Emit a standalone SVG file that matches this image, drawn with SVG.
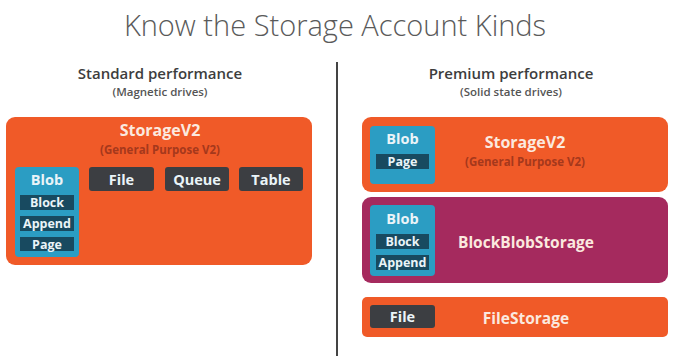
<svg xmlns="http://www.w3.org/2000/svg" width="673" height="356" viewBox="0 0 673 356">
<style>
text{font-family:"Open Sans","Liberation Sans",sans-serif;text-anchor:middle;dominant-baseline:central}
.title{font-size:29px;font-weight:300;fill:#5a5a5a}
.hdr{font-size:15px;font-weight:600;fill:#3d3d3d}
.sub{font-size:11.5px;font-weight:600;fill:#555}
.orange{fill:#f05a28}
.maroon{fill:#a52a5e}
.blue{fill:#2b9dc3}
.navy{fill:#184a60}
.gray{fill:#3c3e42}
.big{font-size:16px;font-weight:700;fill:#fbe9df}
.big2{font-size:15.5px;font-weight:700;fill:#fbe9df}
.gp{font-size:11.5px;font-weight:700;fill:#a5381c}
.lbl{font-size:14.5px;font-weight:700;fill:#eaf4f8}
.sm{font-size:12.5px;font-weight:700;fill:#eaf4f8}
</style>
<rect width="673" height="356" fill="#ffffff"/>
<text class="title" x="335" y="24">Know the Storage Account Kinds</text>
<text class="hdr" x="160" y="73">Standard performance</text>
<text class="sub" x="160" y="91">(Magnetic drives)</text>
<text class="hdr" x="511" y="73">Premium performance</text>
<text class="sub" x="511" y="91">(Solid state drives)</text>
<line x1="337" y1="62" x2="337" y2="356" stroke="#444" stroke-width="2"/>

<g id="std-storagev2">
<rect class="orange" x="6" y="117" width="306" height="148" rx="9"/>
<text class="big" x="160" y="130">StorageV2</text>
<text class="gp" x="160" y="149">(General Purpose V2)</text>
</g>
<g id="std-blob">
<rect class="blue" x="15" y="167" width="64" height="90" rx="4"/>
<text class="lbl" x="47" y="179">Blob</text>
<rect class="navy" x="20" y="195" width="54" height="15"/>
<text class="sm" x="47" y="202.5">Block</text>
<rect class="navy" x="20" y="216" width="54" height="15"/>
<text class="sm" x="47" y="223.5">Append</text>
<rect class="navy" x="20" y="237" width="54" height="14"/>
<text class="sm" x="47" y="244">Page</text>
</g>
<g id="std-file">
<rect class="gray" x="89" y="167" width="65" height="24" rx="3"/>
<text class="lbl" x="121.5" y="179">File</text>
</g>
<g id="std-queue">
<rect class="gray" x="165" y="167" width="64" height="24" rx="3"/>
<text class="lbl" x="197" y="179">Queue</text>
</g>
<g id="std-table">
<rect class="gray" x="239" y="167" width="64" height="24" rx="3"/>
<text class="lbl" x="271" y="179">Table</text>
</g>

<g id="prem-storagev2">
<rect class="orange" x="362" y="117" width="306" height="75" rx="9"/>
<text class="big" x="525" y="142">StorageV2</text>
<text class="gp" x="525" y="161">(General Purpose V2)</text>
<rect class="blue" x="370" y="126" width="65" height="58" rx="4"/>
<text class="lbl" x="402.5" y="138">Blob</text>
<rect class="navy" x="376" y="154" width="53" height="15"/>
<text class="sm" x="402.5" y="161.5">Page</text>
</g>

<g id="prem-blockblob">
<rect class="maroon" x="362" y="197" width="306" height="86" rx="9"/>
<text class="big2" x="526" y="242">BlockBlobStorage</text>
<rect class="blue" x="370" y="205" width="65" height="71" rx="4"/>
<text class="lbl" x="402.5" y="218">Blob</text>
<rect class="navy" x="376" y="234" width="53" height="15"/>
<text class="sm" x="402.5" y="241.5">Block</text>
<rect class="navy" x="376" y="255" width="53" height="15"/>
<text class="sm" x="402.5" y="262.5">Append</text>
</g>

<g id="prem-filestorage">
<rect class="orange" x="362" y="297" width="306" height="40" rx="5"/>
<text class="big2" x="526" y="318">FileStorage</text>
<rect class="gray" x="370" y="305" width="65" height="23" rx="3"/>
<text class="lbl" x="402.5" y="316.5">File</text>
</g>
<g id="connectors"/>
</svg>
